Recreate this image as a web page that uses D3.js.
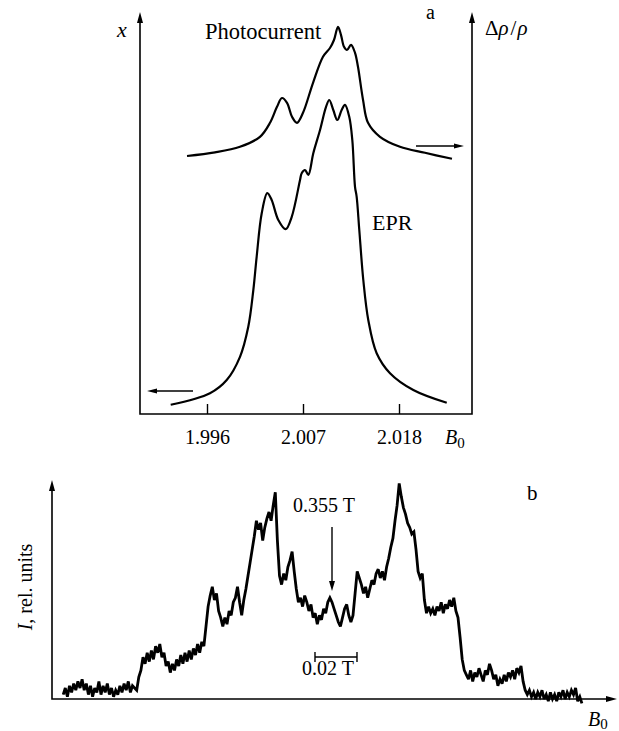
<!DOCTYPE html>
<html>
<head>
<meta charset="utf-8">
<script src="https://cdn.jsdelivr.net/npm/d3@7/dist/d3.min.js"></script>
<style>
  html, body { margin: 0; padding: 0; background: #fff; }
  svg { display: block; }
  text { font-family: "Liberation Serif", "Times New Roman", serif; fill: #000; }
</style>
</head>
<body>
<svg id="chart" width="619" height="731"></svg>
<script>
// ---------- Panel a: photocurrent and EPR spectra vs. g-factor ----------
const gTicks = [1.996, 2.007, 2.018];

// Photocurrent (right axis, Δρ/ρ), arbitrary units
const pcField = [1.99371, 1.99692, 1.99978, 2.00207, 2.00322, 2.00402, 2.00459, 2.00517,
  2.00574, 2.00631, 2.00700, 2.00815, 2.00929, 2.01009, 2.01055, 2.01101, 2.01135, 2.01170,
  2.01204, 2.01250, 2.01296, 2.01330, 2.01388, 2.01445, 2.01582, 2.01811, 2.02098, 2.02407];
const pcSignal = [64.5, 65.4, 66.8, 69.3, 72.8, 76.8, 79.0, 77.8,
  74.3, 72.8, 75.3, 82.8, 89.3, 91.5, 93.5, 96.8, 94.8, 91.8,
  91.0, 92.3, 90.3, 86.8, 78.5, 72.8, 69.3, 66.8, 65.3, 63.8];

// EPR absorption (left axis, x), arbitrary units
const eprField = [1.99184, 1.99634, 1.99826, 1.99978, 2.00073, 2.00131, 2.00169, 2.00227,
  2.00291, 2.00341, 2.00417, 2.00502, 2.00571, 2.00666, 2.00685, 2.00723, 2.00761, 2.00818,
  2.00895, 2.00964, 2.01001, 2.01047, 2.01093, 2.01143, 2.01181, 2.01230, 2.01265, 2.01296,
  2.01315, 2.01345, 2.01391, 2.01448, 2.01544, 2.01697, 2.01964, 2.02347];
const eprSignal = [2.3, 5.2, 8.5, 14.3, 21.8, 31.0, 39.3, 50.2,
  55.2, 53.5, 48.5, 46.2, 49.3, 58.5, 60.2, 61.0, 59.8, 65.2,
  71.0, 76.8, 78.5, 76.0, 73.5, 76.0, 77.3, 74.3, 68.5, 56.8,
  54.3, 46.0, 33.5, 23.5, 15.2, 10.2, 6.0, 2.8];

// ---------- Panel b: noisy spectrum, intensity vs. B0 (T) ----------
const fieldStart = 0.227;   // T, first sample
const fieldStep = 0.001;    // T, sampling step
const intensity = [
  2, 5, 1, 6, 3, 7, 4, 8, 5, 9,
  4, 7, 2, 6, 1, 5, 3, 8, 2, 6,
  3, 7, 2, 5, 1, 4, 2, 6, 3, 7,
  4, 8, 3, 6, 5, 4, 10, 13, 19, 16,
  21, 17, 22, 18, 24, 21, 25, 19, 21, 15,
  17, 12, 16, 13, 18, 15, 20, 16, 21, 17,
  22, 18, 23, 20, 25, 21, 26, 24, 33, 42,
  47, 51, 45, 48, 40, 37, 33, 37, 34, 40,
  38, 44, 46, 51, 44, 38, 45, 50, 56, 62,
  68, 74, 81, 77, 80, 72, 78, 82, 85, 81,
  88, 94, 72, 56, 52, 57, 54, 60, 63, 67,
  58, 50, 44, 46, 42, 47, 44, 40, 43, 37,
  39, 34, 38, 36, 41, 39, 44, 46, 44, 41,
  38, 35, 33, 37, 41, 43, 38, 35, 38, 48,
  58, 55, 52, 48, 51, 46, 50, 54, 52, 57,
  59, 55, 58, 54, 60, 64, 69, 73, 81, 88,
  98, 92, 87, 84, 80, 78, 75, 76, 68, 58,
  55, 57, 45, 39, 42, 39, 41, 38, 42, 40,
  44, 39, 43, 41, 45, 42, 46, 40, 37, 28,
  18, 13, 11, 9, 13, 8, 12, 10, 14, 11,
  8, 13, 11, 16, 13, 9, 11, 6, 9, 7,
  11, 8, 12, 10, 13, 9, 14, 12, 15, 8,
  4, 2, 4, 1, 3, 0, 3, 1, 4, 0,
  2, -1, 3, 0, 2, -1, 3, 1, 4, 0,
  3, 1, 4, 2, 5, -1, 1, -2
];
const markerField = 0.355;          // T, arrow label
const scaleBar = [0.3469, 0.3669];  // 0.02 T bar

const svg = d3.select("#chart");

function arrowHead(g, x, y, dir, len = 10, half = 3.2) {
  // filled narrow triangle pointing in direction dir ("up", "right", "left", "down")
  let pts;
  if (dir === "up") pts = [[x, y], [x - half, y + len], [x + half, y + len]];
  if (dir === "down") pts = [[x, y], [x - half, y - len], [x + half, y - len]];
  if (dir === "right") pts = [[x, y], [x - len, y - half], [x - len, y + half]];
  if (dir === "left") pts = [[x, y], [x + len, y - half], [x + len, y + half]];
  g.append("path").attr("d", "M" + pts.map(p => p.join(",")).join("L") + "Z").attr("fill", "#000");
}

// ===== Panel a =====
const a = { left: 140, right: 472, bottom: 414, top: 12 };
const xA = d3.scaleLinear().domain([gTicks[0], gTicks[2]]).range([207, 399]);
const yA = d3.scaleLinear().domain([0, 100]).range([a.bottom, a.bottom - 400]);

const ga = svg.append("g");
// frame: left axis, bottom line, right axis
ga.append("path")
  .attr("d", `M${a.left},${a.top + 4}V${a.bottom}H${a.right}V${a.top + 4}`)
  .attr("fill", "none").attr("stroke", "#000").attr("stroke-width", 1.6);
arrowHead(ga, a.left, a.top, "up", 11, 3);
arrowHead(ga, a.right, a.top, "up", 11, 3);

const axA = ga.append("g").attr("transform", `translate(0,${a.bottom})`)
  .call(d3.axisBottom(xA).tickValues(gTicks).tickFormat(d3.format(".3f"))
    .tickSizeInner(-10).tickSizeOuter(0));
axA.select(".domain").remove();
axA.selectAll(".tick line").attr("stroke", "#000").attr("stroke-width", 1.4);
axA.selectAll(".tick text").attr("y", 30).attr("dy", 0)
  .style("font-family", "Liberation Serif, serif").style("font-size", "20px").attr("fill", "#000");

const lineA = (fx, fy) => d3.line().x((d, i) => xA(fx[i])).y((d, i) => yA(fy[i])).curve(d3.curveCatmullRom.alpha(0.5));
ga.append("path").datum(pcSignal).attr("d", lineA(pcField, pcSignal))
  .attr("fill", "none").attr("stroke", "#000").attr("stroke-width", 2.2);
ga.append("path").datum(eprSignal).attr("d", lineA(eprField, eprSignal))
  .attr("fill", "none").attr("stroke", "#000").attr("stroke-width", 2.2);

// axis-assignment arrows
ga.append("line").attr("x1", 416).attr("x2", 455).attr("y1", 146).attr("y2", 146).attr("stroke", "#000").attr("stroke-width", 1.4);
arrowHead(ga, 464, 146, "right", 10, 2.6);
ga.append("line").attr("x1", 193).attr("x2", 156).attr("y1", 391).attr("y2", 391).attr("stroke", "#000").attr("stroke-width", 1.4);
arrowHead(ga, 147, 391, "left", 10, 2.6);

// labels
ga.append("text").attr("x", 117).attr("y", 37).style("font-size", "22px").style("font-style", "italic").text("x");
ga.append("text").attr("x", 205).attr("y", 39).style("font-size", "22.5px").text("Photocurrent");
ga.append("text").attr("x", 426).attr("y", 19).style("font-size", "20px").text("a");
const dr = ga.append("text").attr("x", 485).attr("y", 35).style("font-size", "21px");
dr.append("tspan").text("Δ");
dr.append("tspan").style("font-style", "italic").text("ρ");
dr.append("tspan").attr("dx", 2).text("/");
dr.append("tspan").attr("dx", 1).style("font-style", "italic").text("ρ");
ga.append("text").attr("x", 372).attr("y", 230).style("font-size", "22px").text("EPR");
const b0a = ga.append("text").attr("x", 445).attr("y", 444).style("font-size", "20px");
b0a.append("tspan").style("font-style", "italic").text("B");
b0a.append("tspan").attr("dy", 4).style("font-size", "15px").text("0");

// ===== Panel b =====
const b = { left: 52, right: 617, bottom: 699, top: 480 };
const xB = d3.scaleLinear().domain([markerField, markerField + 0.02]).range([332, 374]);
const yB = d3.scaleLinear().domain([0, 100]).range([b.bottom, b.bottom - 220]);

const gb = svg.append("g");
gb.append("path").attr("d", `M${b.left},${b.top + 5}V${b.bottom}H${b.right - 5}`)
  .attr("fill", "none").attr("stroke", "#000").attr("stroke-width", 1.6);
arrowHead(gb, b.left, b.top, "up", 11, 3);
arrowHead(gb, b.right, b.bottom, "right", 11, 3);

const lineB = d3.line().x((d, i) => xB(fieldStart + i * fieldStep)).y(d => yB(d));
gb.append("path").datum(intensity).attr("d", lineB)
  .attr("fill", "none").attr("stroke", "#000").attr("stroke-width", 2.8)
  .attr("stroke-linejoin", "miter").attr("stroke-miterlimit", 3);

// marker arrow at 0.355 T
gb.append("line").attr("x1", xB(markerField)).attr("x2", xB(markerField)).attr("y1", 527).attr("y2", 582)
  .attr("stroke", "#000").attr("stroke-width", 1.4);
arrowHead(gb, xB(markerField), 591, "down", 10, 3);
gb.append("text").attr("x", 293).attr("y", 512).style("font-size", "20px").text("0.355 T");

// scale bar 0.02 T
gb.append("path")
  .attr("d", `M${xB(scaleBar[0])},652V662M${xB(scaleBar[0])},657H${xB(scaleBar[1])}M${xB(scaleBar[1])},652V662`)
  .attr("fill", "none").attr("stroke", "#000").attr("stroke-width", 1.4);
gb.append("text").attr("x", 302).attr("y", 675).style("font-size", "20px").text("0.02 T");

gb.append("text").attr("x", 527).attr("y", 500).style("font-size", "21px").text("b");
const b0b = gb.append("text").attr("x", 588).attr("y", 726).style("font-size", "20px");
b0b.append("tspan").style("font-style", "italic").text("B");
b0b.append("tspan").attr("dy", 3).style("font-size", "15px").text("0");

const yl = gb.append("text").attr("transform", "translate(32,587) rotate(-90)")
  .attr("text-anchor", "middle").style("font-size", "20px");
yl.append("tspan").style("font-style", "italic").text("I");
yl.append("tspan").text(", rel. units");
</script>
</body>
</html>
